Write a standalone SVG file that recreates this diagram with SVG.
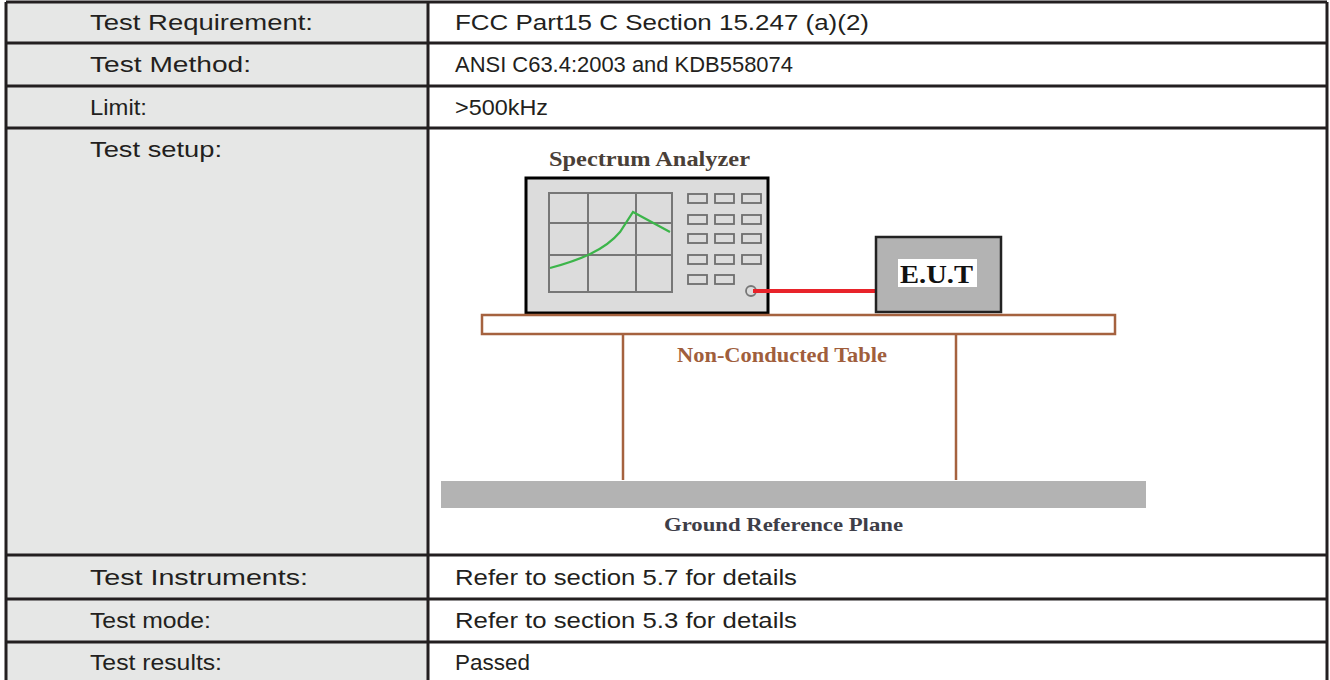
<svg xmlns="http://www.w3.org/2000/svg" width="1330" height="680" viewBox="0 0 1330 680">
<style>
.lab{fill:#e6e7e6}
.grid{stroke:#231f20;stroke-width:3;fill:none}
.t{font-family:"Liberation Sans",Arial,sans-serif;font-size:22px;fill:#231f20}
.btn{fill:#dcdcdc;stroke:#6e6e6e;stroke-width:1.8}
.gl{stroke:#777;stroke-width:2;fill:none}
.brown{stroke:#a5623f;stroke-width:2.5}
.serif{font-family:"Liberation Serif","Times New Roman",serif;font-weight:bold}
</style>
<rect width="1330" height="680" fill="#ffffff"/>
<g id="table">
<rect class="lab" x="6" y="2" width="422" height="680"/>
<path class="grid" d="M6 2H1327M6 43H1327M6 86H1327M6 128H1327M6 555H1327M6 599H1327M6 642H1327M6 2V680M428 2V680M1327 2V680"/>
<text class="t" x="90" y="30" textLength="223" lengthAdjust="spacingAndGlyphs">Test Requirement:</text>
<text class="t" x="90" y="72" textLength="161" lengthAdjust="spacingAndGlyphs">Test Method:</text>
<text class="t" x="90" y="115" textLength="57" lengthAdjust="spacingAndGlyphs">Limit:</text>
<text class="t" x="90" y="157" textLength="132" lengthAdjust="spacingAndGlyphs">Test setup:</text>
<text class="t" x="90" y="585" textLength="218" lengthAdjust="spacingAndGlyphs">Test Instruments:</text>
<text class="t" x="90" y="628" textLength="121" lengthAdjust="spacingAndGlyphs">Test mode:</text>
<text class="t" x="90" y="670" textLength="132" lengthAdjust="spacingAndGlyphs">Test results:</text>
<text class="t" x="455" y="30" textLength="414" lengthAdjust="spacingAndGlyphs">FCC Part15 C Section 15.247 (a)(2)</text>
<text class="t" x="455" y="72" textLength="338" lengthAdjust="spacingAndGlyphs">ANSI C63.4:2003 and KDB558074</text>
<text class="t" x="455" y="115" textLength="93" lengthAdjust="spacingAndGlyphs">&gt;500kHz</text>
<text class="t" x="455" y="585" textLength="342" lengthAdjust="spacingAndGlyphs">Refer to section 5.7 for details</text>
<text class="t" x="455" y="628" textLength="342" lengthAdjust="spacingAndGlyphs">Refer to section 5.3 for details</text>
<text class="t" x="455" y="670" textLength="75" lengthAdjust="spacingAndGlyphs">Passed</text>
</g>
<g id="analyzer">
<text class="serif" x="549" y="166" font-size="20" fill="#4a4038" textLength="201" lengthAdjust="spacingAndGlyphs">Spectrum Analyzer</text>
<rect x="526" y="178" width="242" height="135" fill="#dcdcdc" stroke="#000" stroke-width="3"/>
<rect class="gl" x="549" y="193" width="123" height="99"/>
<path class="gl" d="M588 193V292M636 193V292M549 223H672M549 255H672"/>
<path d="M550 268C580 260 605 250 620 232L633 212L670 232" fill="none" stroke="#3cb54a" stroke-width="2.2"/>
<g>
<rect class="btn" x="688" y="194" width="19" height="9"/><rect class="btn" x="715" y="194" width="19" height="9"/><rect class="btn" x="742" y="194" width="19" height="9"/>
<rect class="btn" x="688" y="215" width="19" height="9"/><rect class="btn" x="715" y="215" width="19" height="9"/><rect class="btn" x="742" y="215" width="19" height="9"/>
<rect class="btn" x="688" y="234" width="19" height="9"/><rect class="btn" x="715" y="234" width="19" height="9"/><rect class="btn" x="742" y="234" width="19" height="9"/>
<rect class="btn" x="688" y="255" width="19" height="9"/><rect class="btn" x="715" y="255" width="19" height="9"/><rect class="btn" x="742" y="255" width="19" height="9"/>
<rect class="btn" x="688" y="275" width="19" height="9"/><rect class="btn" x="715" y="275" width="19" height="9"/>
</g>
<circle cx="751" cy="291" r="5" fill="#dcdcdc" stroke="#777" stroke-width="1.8"/>
</g>
<g id="connectors">
<line x1="753" y1="291" x2="875" y2="291" stroke="#e8232a" stroke-width="4"/>
</g>
<g id="eut">
<rect x="876" y="237" width="125" height="75" fill="#b3b3b3" stroke="#222" stroke-width="2.5"/>
<rect x="898" y="259" width="79" height="28" fill="#ffffff"/>
<text class="serif" x="900" y="283" font-size="25" fill="#111" textLength="73" lengthAdjust="spacingAndGlyphs">E.U.T</text>
</g>
<g id="desk">
<rect x="482" y="315" width="633" height="19" fill="#fff" class="brown" stroke-width="2"/>
<line class="brown" x1="623" y1="334" x2="623" y2="480"/>
<line class="brown" x1="956" y1="334" x2="956" y2="480"/>
<text class="serif" x="677" y="362" font-size="20" fill="#a05e3c" textLength="210" lengthAdjust="spacingAndGlyphs">Non-Conducted Table</text>
</g>
<g id="ground">
<rect x="441" y="481" width="705" height="27" fill="#b3b3b3"/>
<text class="serif" x="664" y="531" font-size="19" fill="#3e3e48" textLength="239" lengthAdjust="spacingAndGlyphs">Ground Reference Plane</text>
</g>
</svg>
